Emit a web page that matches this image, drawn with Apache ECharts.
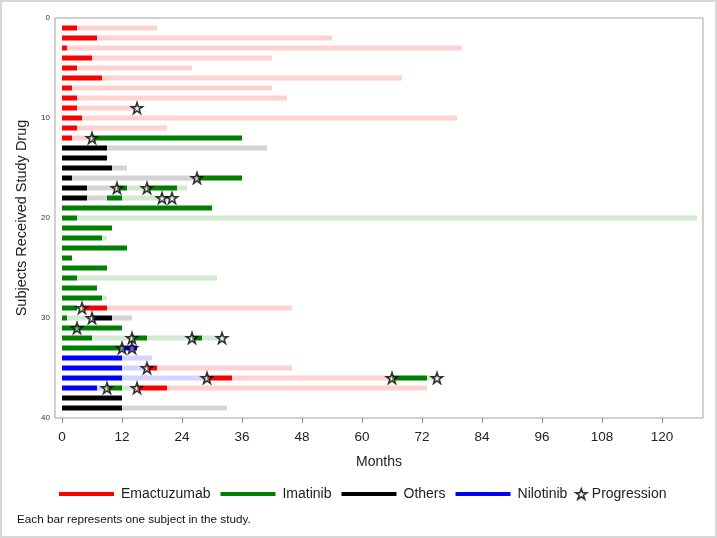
<!DOCTYPE html>
<html>
<head>
<meta charset="utf-8">
<script src="https://cdn.jsdelivr.net/npm/echarts@6/dist/echarts.min.js"></script>
<style>
html,body{margin:0;padding:0;background:#fff;}
#chart{width:717px;height:538px;}
</style>
</head>
<body>
<div id="chart"></div>
<script>
// [subject, start month, end month]
var emactuzumabOn = [[1,0,3],[2,0,7],[3,0,1],[4,0,6],[5,0,3],[6,0,8],[7,0,2],[8,0,3],[9,0,3],[10,0,4],[11,0,3],[12,0,2],[29,4,9],[35,17,19],[36,29,34],[37,15,21]];
var emactuzumabOff = [[1,3,19],[2,7,54],[3,1,80],[4,6,42],[5,3,26],[6,8,68],[7,2,42],[8,3,45],[9,3,15],[10,4,79],[11,3,21],[12,2,6],[29,9,46],[35,19,46],[36,34,66],[37,21,73]];
var imatinibOn = [[12,6,36],[16,27,36],[17,11,13],[17,17,23],[18,9,12],[19,0,30],[20,0,3],[21,0,10],[22,0,8],[23,0,13],[24,0,2],[25,0,9],[26,0,3],[27,0,7],[28,0,8],[29,0,3],[30,0,1],[31,0,12],[32,0,6],[32,14,17],[32,26,28],[33,0,12],[36,66,73],[37,9,12]];
var imatinibOff = [[17,13,17],[17,23,25],[18,12,22],[20,3,127],[22,8,9],[26,3,31],[28,8,9],[30,1,6],[32,6,14],[32,17,26],[32,28,32],[36,73,75],[37,12,15]];
var othersOn = [[13,0,9],[14,0,9],[15,0,10],[16,0,2],[17,0,5],[18,0,5],[30,6,10],[38,0,12],[39,0,12]];
var othersOff = [[13,9,41],[15,10,13],[16,2,27],[17,5,11],[18,5,9],[30,10,14],[39,12,33]];
var nilotinibOn = [[33,12,15],[34,0,12],[35,0,12],[36,0,12],[37,0,7]];
var nilotinibOff = [[34,12,18],[35,12,17],[36,12,29],[37,7,9]];
// [subject, month]
var progression = [[9,15],[12,6],[16,27],[17,11],[17,17],[18,20],[18,22],[29,4],[30,6],[31,3],[32,14],[32,26],[32,32],[33,12],[33,14],[35,17],[36,29],[36,66],[36,75],[37,9],[37,15]];
var xTicks = [0,12,24,36,48,60,72,84,96,108,120];
var yTicks = [0,10,20,30,40];

var FONT = "'Liberation Sans', Arial, sans-serif";
var STAR = 'path://M50,2 L61.8,36.2 L97.6,36.2 L68.6,57.3 L79.6,91.5 L50,70.4 L20.4,91.5 L31.4,57.3 L2.4,36.2 L38.2,36.2 Z';

var drugs = [
  {name:'Emactuzumab', on:emactuzumabOn, off:emactuzumabOff, dark:'#ff0000', light:'#ffd2d2'},
  {name:'Imatinib', on:imatinibOn, off:imatinibOff, dark:'#008000', light:'#d4e9d4'},
  {name:'Others', on:othersOn, off:othersOff, dark:'#000000', light:'#d4d4d4'},
  {name:'Nilotinib', on:nilotinibOn, off:nilotinibOff, dark:'#0000ff', light:'#d4d4ff'}
];

function makeRender(dark, light) {
  return function (params, api) {
    var s = api.value(0), a = api.value(1), b = api.value(2), on = api.value(3);
    var p0 = api.coord([a, s]);
    var p1 = api.coord([b, s]);
    var h = 5;
    return {
      type: 'rect',
      shape: {x: p0[0], y: p0[1] - h / 2, width: p1[0] - p0[0], height: h},
      style: {fill: on ? dark : light}
    };
  };
}

var series = drugs.map(function (d) {
  var data = d.off.map(function (r) { return [r[0], r[1], r[2], 0]; })
    .concat(d.on.map(function (r) { return [r[0], r[1], r[2], 1]; }));
  return {
    name: d.name,
    type: 'custom',
    renderItem: makeRender(d.dark, d.light),
    encode: {x: [1, 2], y: 0},
    itemStyle: {color: d.dark},
    data: data,
    z: 2
  };
});
var starStyle = {color: 'rgba(255,255,255,0.5)', borderColor: '#000', borderWidth: 1.6};
series.push({
  name: 'Progression',
  type: 'scatter',
  symbol: STAR,
  symbolSize: 11,
  itemStyle: starStyle,
  data: progression.map(function (p) { return [p[1], p[0]]; }),
  z: 5
});

var chart = echarts.init(document.getElementById('chart'), null, {renderer: 'canvas'});
chart.setOption({
  animation: false,
  backgroundColor: '#fff',
  textStyle: {fontFamily: FONT},
  grid: {left: 55, top: 18, right: 14, bottom: 120, show: true, borderColor: '#a3a3a3', borderWidth: 1, backgroundColor: '#fff'},
  xAxis: {
    type: 'value', min: -1.4, max: 128.2, position: 'bottom',
    name: 'Months', nameLocation: 'middle', nameGap: 37,
    nameTextStyle: {fontSize: 14, color: '#222', fontFamily: FONT},
    axisLine: {show: false, onZero: false},
    axisTick: {show: true, length: 5, lineStyle: {color: '#888'}, customValues: xTicks},
    axisLabel: {fontSize: 13.5, color: '#222', margin: 12, fontFamily: FONT, customValues: xTicks},
    splitLine: {show: false}
  },
  yAxis: {
    type: 'value', inverse: true, min: 0, max: 40, interval: 10,
    name: 'Subjects Received Study Drug', nameLocation: 'middle', nameGap: 26,
    nameTextStyle: {fontSize: 14.5, color: '#222', fontFamily: FONT},
    axisLine: {show: false, onZero: false},
    axisTick: {show: false},
    axisLabel: {fontSize: 8, color: '#333', margin: 5, fontFamily: FONT, customValues: yTicks},
    splitLine: {show: false}
  },
  legend: [{
    left: 59, top: 487, orient: 'horizontal', padding: 0,
    itemWidth: 55, itemHeight: 4, itemGap: 10,
    textStyle: {fontSize: 14, color: '#222', fontFamily: FONT, padding: [0, 0, 0, 2]},
    selectedMode: false,
    data: drugs.map(function (d) { return {name: d.name, icon: 'rect', itemStyle: {color: d.dark}}; })
  }, {
    left: 575, top: 487, orient: 'horizontal', padding: 0,
    itemWidth: 11, itemHeight: 11,
    textStyle: {fontSize: 14, color: '#222', fontFamily: FONT},
    selectedMode: false,
    data: [{name: 'Progression', icon: STAR, itemStyle: starStyle}]
  }],
  graphic: [
    {type: 'text', left: 17, top: 514, style: {text: 'Each bar represents one subject in the study.', fontSize: 11.7, fill: '#111', fontFamily: FONT}},
    {type: 'rect', shape: {x: 1, y: 1, width: 715, height: 536}, style: {fill: 'none', stroke: '#d8d8d8', lineWidth: 2}, silent: true, z: 100}
  ],
  series: series
});
</script>
</body>
</html>
